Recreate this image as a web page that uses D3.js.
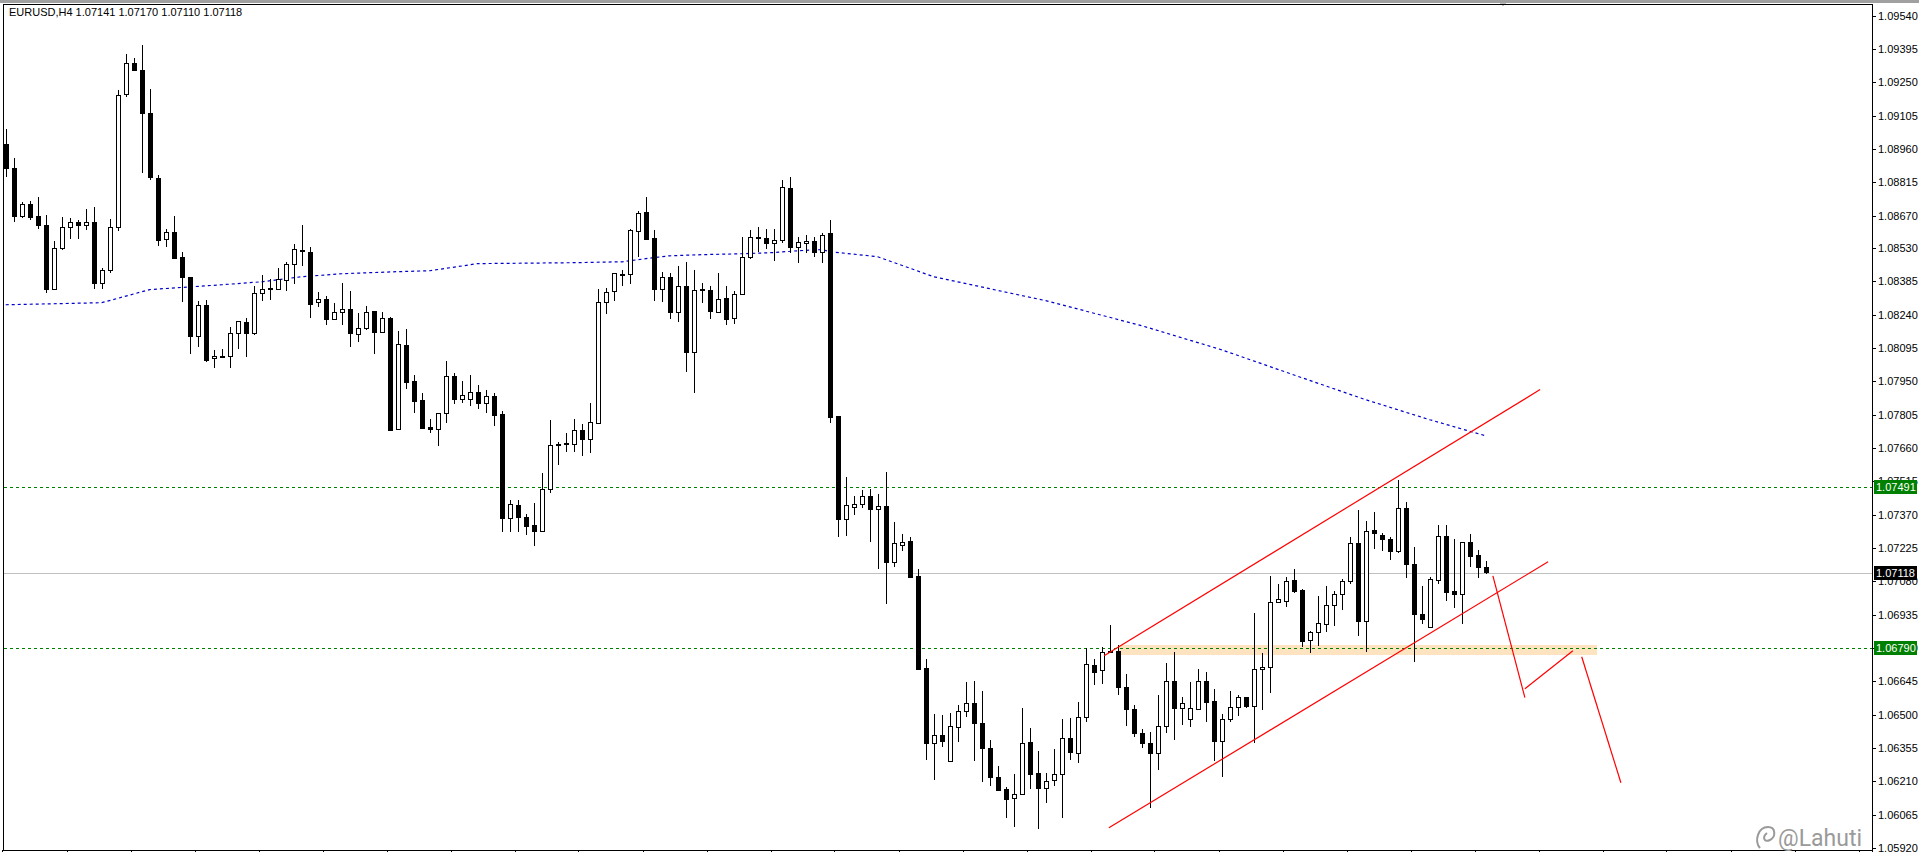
<!DOCTYPE html>
<html>
<head>
<meta charset="utf-8">
<script src="https://cdn.jsdelivr.net/npm/d3@7"></script>
<style>
  html, body { margin: 0; padding: 0; background: #fff; }
  svg { display: block; font-family: "Liberation Sans", Arial, sans-serif; }
</style>
</head>
<body>
<div id="chart"></div>
<script>
// EURUSD H4 candles (oldest first)
const opens = [1.08984,1.08879,1.08670,1.08723,1.08670,1.08631,1.08353,1.08531,1.08623,1.08644,1.08631,1.08644,1.08379,1.08436,1.08623,1.09201,1.09336,1.09306,1.09118,1.08836,
  1.08570,1.08601,1.08492,1.08405,1.08148,1.08283,1.08053,1.08061,1.08061,1.08161,1.08209,1.08161,1.08335,1.08353,1.08353,1.08392,1.08462,1.08523,1.08514,1.08296,
  1.08309,1.08222,1.08253,1.08266,1.08157,1.08183,1.08257,1.08166,1.08227,1.07744,1.08109,1.07953,1.07870,1.07753,1.07744,1.07813,1.07974,1.07874,1.07874,1.07905,
  1.07857,1.07887,1.07809,1.07357,1.07413,1.07361,1.07326,1.07300,1.07483,1.07679,1.07679,1.07679,1.07740,1.07700,1.07770,1.08296,1.08344,1.08418,1.08418,1.08605,
  1.08688,1.08575,1.08353,1.08405,1.08253,1.08366,1.08079,1.08353,1.08348,1.08253,1.08314,1.08227,1.08331,1.08492,1.08575,1.08575,1.08553,1.08566,1.08792,1.08536,
  1.08553,1.08562,1.08514,1.08596,1.07800,1.07352,1.07405,1.07418,1.07452,1.07396,1.07409,1.07165,1.07239,1.07257,1.07104,1.06704,1.06378,1.06413,1.06300,1.06448,
  1.06517,1.06552,1.06465,1.06356,1.06230,1.06178,1.06139,1.06156,1.06382,1.06247,1.06182,1.06217,1.06243,1.06400,1.06334,1.06491,1.06717,1.06696,1.06778,1.06778,
  1.06622,1.06526,1.06421,1.06378,1.06334,1.06452,1.06648,1.06530,1.06482,1.06526,1.06648,1.06561,1.06387,1.06482,1.06535,1.06578,1.06539,1.06700,1.06709,1.06991,
  1.06996,1.07087,1.07043,1.06826,1.06861,1.06896,1.06978,1.07026,1.07083,1.07248,1.06909,1.07305,1.07283,1.07265,1.07213,1.07400,1.07157,1.06939,1.06883,1.07087,
  1.07278,1.07039,1.07026,1.07252,1.07196,1.07141];
const highs = [1.09049,1.08923,1.08731,1.08736,1.08753,1.08675,1.08562,1.08666,1.08662,1.08653,1.08701,1.08710,1.08444,1.08657,1.09219,1.09375,1.09358,1.09414,1.09223,1.08849,
  1.08614,1.08670,1.08514,1.08405,1.08301,1.08305,1.08088,1.08092,1.08188,1.08214,1.08227,1.08366,1.08414,1.08396,1.08444,1.08470,1.08549,1.08631,1.08536,1.08340,
  1.08322,1.08292,1.08379,1.08344,1.08248,1.08279,1.08257,1.08253,1.08231,1.08170,1.08179,1.07979,1.07900,1.07787,1.07813,1.08040,1.07987,1.07953,1.07979,1.07935,
  1.07913,1.07900,1.07822,1.07435,1.07435,1.07374,1.07422,1.07552,1.07783,1.07687,1.07726,1.07787,1.07766,1.07857,1.08353,1.08357,1.08422,1.08436,1.08614,1.08692,
  1.08753,1.08610,1.08427,1.08422,1.08453,1.08470,1.08436,1.08379,1.08366,1.08422,1.08366,1.08344,1.08579,1.08610,1.08623,1.08614,1.08614,1.08827,1.08840,1.08579,
  1.08588,1.08579,1.08596,1.08653,1.07800,1.07535,1.07452,1.07479,1.07482,1.07461,1.07557,1.07339,1.07287,1.07274,1.07135,1.06743,1.06504,1.06500,1.06508,1.06543,
  1.06643,1.06648,1.06604,1.06391,1.06278,1.06187,1.06243,1.06530,1.06443,1.06343,1.06247,1.06352,1.06482,1.06487,1.06556,1.06791,1.06743,1.06796,1.06891,1.06804,
  1.06678,1.06543,1.06439,1.06426,1.06587,1.06726,1.06774,1.06578,1.06643,1.06700,1.06687,1.06613,1.06504,1.06604,1.06587,1.06578,1.06943,1.06769,1.07104,1.07070,
  1.07100,1.07135,1.07048,1.06865,1.07017,1.07061,1.07039,1.07091,1.07274,1.07392,1.07344,1.07383,1.07291,1.07274,1.07522,1.07426,1.07231,1.07061,1.07100,1.07326,
  1.07326,1.07265,1.07252,1.07287,1.07218,1.07170];
const lows = [1.08840,1.08644,1.08662,1.08653,1.08614,1.08335,1.08353,1.08523,1.08570,1.08570,1.08610,1.08353,1.08353,1.08422,1.08605,1.09188,1.09301,1.08857,1.08827,1.08540,
  1.08536,1.08483,1.08296,1.08070,1.08101,1.08035,1.08009,1.08057,1.08009,1.08092,1.08057,1.08153,1.08301,1.08305,1.08353,1.08344,1.08375,1.08453,1.08227,1.08275,
  1.08196,1.08222,1.08196,1.08101,1.08122,1.08175,1.08070,1.08161,1.07735,1.07740,1.07918,1.07813,1.07744,1.07726,1.07670,1.07770,1.07853,1.07857,1.07844,1.07831,
  1.07813,1.07757,1.07296,1.07296,1.07296,1.07283,1.07235,1.07300,1.07465,1.07587,1.07644,1.07644,1.07626,1.07639,1.07770,1.08244,1.08301,1.08366,1.08375,1.08492,
  1.08566,1.08301,1.08296,1.08222,1.08209,1.07992,1.07900,1.08292,1.08222,1.08253,1.08196,1.08201,1.08331,1.08483,1.08514,1.08527,1.08475,1.08553,1.08509,1.08466,
  1.08509,1.08492,1.08466,1.07770,1.07274,1.07278,1.07370,1.07400,1.07252,1.07135,1.06983,1.07144,1.07213,1.07096,1.06696,1.06304,1.06217,1.06361,1.06295,1.06382,
  1.06491,1.06300,1.06208,1.06191,1.06169,1.06052,1.06013,1.06152,1.06178,1.06004,1.06117,1.06191,1.06052,1.06304,1.06291,1.06469,1.06630,1.06635,1.06774,1.06587,
  1.06452,1.06404,1.06356,1.06095,1.06261,1.06421,1.06391,1.06456,1.06448,1.06526,1.06469,1.06300,1.06230,1.06469,1.06495,1.06530,1.06378,1.06521,1.06595,1.06987,
  1.06970,1.07030,1.06796,1.06769,1.06800,1.06861,1.06887,1.06957,1.07070,1.06843,1.06774,1.07222,1.07213,1.07174,1.07204,1.07096,1.06730,1.06896,1.06883,1.07070,
  1.06996,1.06965,1.06896,1.07144,1.07096,1.07110];
const closes = [1.08879,1.08670,1.08723,1.08666,1.08631,1.08353,1.08531,1.08623,1.08644,1.08631,1.08644,1.08379,1.08436,1.08623,1.09197,1.09336,1.09306,1.09118,1.08840,1.08566,
  1.08601,1.08488,1.08405,1.08148,1.08283,1.08044,1.08061,1.08057,1.08161,1.08214,1.08161,1.08335,1.08353,1.08357,1.08396,1.08462,1.08527,1.08518,1.08288,1.08309,
  1.08222,1.08253,1.08266,1.08161,1.08183,1.08253,1.08166,1.08227,1.07740,1.08114,1.07948,1.07866,1.07748,1.07744,1.07813,1.07974,1.07874,1.07892,1.07905,1.07857,
  1.07887,1.07805,1.07357,1.07418,1.07361,1.07322,1.07300,1.07483,1.07674,1.07674,1.07683,1.07740,1.07700,1.07774,1.08296,1.08340,1.08422,1.08414,1.08610,1.08683,
  1.08570,1.08353,1.08405,1.08253,1.08366,1.08079,1.08348,1.08348,1.08257,1.08309,1.08222,1.08331,1.08492,1.08579,1.08579,1.08553,1.08566,1.08797,1.08536,1.08557,
  1.08562,1.08514,1.08588,1.07796,1.07352,1.07413,1.07418,1.07452,1.07396,1.07409,1.07165,1.07248,1.07252,1.07100,1.06700,1.06378,1.06413,1.06387,1.06452,1.06517,
  1.06552,1.06465,1.06356,1.06230,1.06174,1.06134,1.06156,1.06378,1.06243,1.06182,1.06213,1.06243,1.06400,1.06339,1.06491,1.06722,1.06687,1.06774,1.06774,1.06622,
  1.06526,1.06421,1.06378,1.06334,1.06452,1.06648,1.06530,1.06552,1.06530,1.06648,1.06556,1.06387,1.06482,1.06535,1.06578,1.06539,1.06700,1.06709,1.06991,1.07004,
  1.07083,1.07039,1.06822,1.06861,1.06900,1.06978,1.07026,1.07083,1.07248,1.06909,1.07300,1.07291,1.07265,1.07213,1.07400,1.07157,1.06939,1.06917,1.07091,1.07278,
  1.07035,1.07026,1.07252,1.07191,1.07144,1.07118];

// moving average (blue dotted), sampled at bar indices
const maIndex = [0,12,18,27,32,37,42,49,53,59,71,77,81,83,87,92,96,99,102,103,109,116,130,142,152,162,170,178,185];
const maValue = [1.08283,1.08292,1.08349,1.08370,1.08383,1.08405,1.08418,1.08427,1.08431,1.08462,1.08466,1.08470,1.08488,1.08496,1.08501,
  1.08505,1.08510,1.08518,1.08523,1.08514,1.08492,1.08405,1.08301,1.08192,1.08087,1.07966,1.07870,1.07783,1.07713];

const priceTicks = [1.09540,1.09395,1.09250,1.09105,1.08960,1.08815,1.08670,1.08530,1.08385,1.08240,1.08095,1.07950,1.07805,1.07660,
  1.07515,1.07370,1.07225,1.07080,1.06935,1.06790,1.06645,1.06500,1.06355,1.06210,1.06065,1.05920];

// horizontal levels and drawn objects (bar index, price)
const levels = [1.07491, 1.06790];
const bidPrice = 1.07118;
const channelUpper = [[137.3, 1.06756], [191.8, 1.07914]];
const channelLower = [[137.9, 1.06008], [192.8, 1.07165]];
const arrowLegs = [
  [[185.9, 1.07104], [189.9, 1.06574]],
  [[189.9, 1.06613], [195.9, 1.06778]],
  [[197.0, 1.06752], [201.9, 1.06204]]
];
const zone = { from: 139.0, to: 198.9, top: 1.06804, bottom: 1.06761 };

const W = 1919, H = 852;
const plotRight = 1872, plotTop = 4, plotBottom = 850;

const svg = d3.select('#chart').append('svg')
  .attr('width', W).attr('height', H)
  .attr('shape-rendering', 'crispEdges');

const x = d3.scaleLinear().domain([0, 233]).range([5.7, 5.7 + 8 * 233]);
const y = d3.scaleLinear().domain([1.0592, 1.0954]).range([848, 15.8]);

// top gray strip and frame
svg.append('rect').attr('x', 0).attr('y', 0).attr('width', W).attr('height', 3).attr('fill', '#a0a0a0');
svg.append('path').attr('d', `M1500,3 L1506,3 L1503,7 Z`).attr('fill', '#c0c0c0');
svg.append('line').attr('x1', 3.5).attr('x2', 3.5).attr('y1', plotTop).attr('y2', plotBottom).attr('stroke', '#000');
svg.append('line').attr('x1', 3).attr('x2', plotRight).attr('y1', plotTop + 0.5).attr('y2', plotTop + 0.5).attr('stroke', '#000');
svg.append('line').attr('x1', plotRight + 0.5).attr('x2', plotRight + 0.5).attr('y1', plotTop).attr('y2', H).attr('stroke', '#000');
svg.append('line').attr('x1', 3).attr('x2', plotRight).attr('y1', plotBottom + 0.5).attr('y2', plotBottom + 0.5).attr('stroke', '#000');

// bottom time ticks every 8 bars
const timeTicks = d3.range(-0.4, 233, 8);
svg.append('g').selectAll('line').data(timeTicks).join('line')
  .attr('x1', d => Math.round(x(d)) + 0.5).attr('x2', d => Math.round(x(d)) + 0.5)
  .attr('y1', plotBottom).attr('y2', H).attr('stroke', '#000');

// price axis
const axis = svg.append('g');
axis.selectAll('line').data(priceTicks).join('line')
  .attr('x1', plotRight).attr('x2', plotRight + 4)
  .attr('y1', d => Math.round(y(d)) + 0.5).attr('y2', d => Math.round(y(d)) + 0.5)
  .attr('stroke', '#000');
axis.selectAll('text').data(priceTicks).join('text')
  .attr('x', plotRight + 6).attr('y', d => y(d) + 4)
  .attr('font-size', 11).attr('fill', '#000')
  .text(d => d.toFixed(5));

// orange zone
svg.append('rect')
  .attr('x', x(zone.from)).attr('width', x(zone.to) - x(zone.from))
  .attr('y', y(zone.top)).attr('height', y(zone.bottom) - y(zone.top))
  .attr('fill', '#fde3c0');

// levels
svg.append('line').attr('x1', 4).attr('x2', plotRight)
  .attr('y1', Math.round(y(bidPrice)) + 0.5).attr('y2', Math.round(y(bidPrice)) + 0.5)
  .attr('stroke', '#c0c0c0');
svg.append('g').selectAll('line').data(levels).join('line')
  .attr('x1', 4).attr('x2', plotRight)
  .attr('y1', d => Math.round(y(d)) + 0.5).attr('y2', d => Math.round(y(d)) + 0.5)
  .attr('stroke', '#008000').attr('stroke-dasharray', '3,3');

// moving average
const maLine = d3.line().x(d => x(d[0])).y(d => y(d[1]));
svg.append('path')
  .datum(maIndex.map((d, i) => [d, maValue[i]]))
  .attr('d', maLine).attr('fill', 'none')
  .attr('stroke', '#0000cc').attr('stroke-width', 1.2).attr('stroke-dasharray', '3,3')
  .attr('shape-rendering', 'auto');

// candles
const candles = opens.map((o, i) => ({ i, o, h: highs[i], l: lows[i], c: closes[i] }));
const g = svg.append('g');
g.selectAll('.wick').data(candles).join('line')
  .attr('class', 'wick')
  .attr('x1', d => Math.round(x(d.i)) + 0.5).attr('x2', d => Math.round(x(d.i)) + 0.5)
  .attr('y1', d => Math.round(y(d.h))).attr('y2', d => Math.round(y(d.l)))
  .attr('stroke', '#000');
g.selectAll('.body').data(candles).join('rect')
  .attr('class', 'body')
  .attr('x', d => Math.round(x(d.i)) - 1.5)
  .attr('width', 4)
  .attr('y', d => Math.round(y(Math.max(d.o, d.c))) + 0.5)
  .attr('height', d => Math.max(1, Math.round(Math.abs(y(d.o) - y(d.c)))))
  .attr('fill', d => d.c >= d.o ? '#fff' : '#000')
  .attr('stroke', '#000');

// drawn red lines
const red = svg.append('g').attr('stroke', '#ff0000').attr('fill', 'none').attr('shape-rendering', 'auto');
[channelUpper, channelLower, ...arrowLegs].forEach(seg => {
  red.append('line')
    .attr('x1', x(seg[0][0])).attr('y1', y(seg[0][1]))
    .attr('x2', x(seg[1][0])).attr('y2', y(seg[1][1]))
    .attr('stroke-width', 1.2);
});

// axis price labels
function priceLabel(p, bg) {
  const yy = Math.round(y(p));
  svg.append('rect').attr('x', plotRight + 2).attr('y', yy - 7).attr('width', 43).attr('height', 14).attr('fill', bg);
  svg.append('text').attr('x', plotRight + 4).attr('y', yy + 4)
    .attr('font-size', 11).attr('fill', '#fff').text(p.toFixed(5));
}
levels.forEach(p => priceLabel(p, '#008000'));
priceLabel(bidPrice, '#000');

// header
svg.append('text').attr('x', 9).attr('y', 16).attr('font-size', 11).attr('fill', '#000')
  .text('EURUSD,H4  1.07141 1.07170 1.07110 1.07118');

// watermark
const wm = svg.append('g').attr('fill', 'none').attr('stroke', '#9a9a9a').attr('stroke-width', 2)
  .attr('shape-rendering', 'auto');
wm.append('path').attr('d', 'M1760,848 C1754,841 1758,827 1768,827 C1776,827 1776,837 1770,840 C1764,843 1762,837 1767,833');
svg.append('text').attr('x', 1778).attr('y', 846).attr('font-size', 23)
  .attr('font-family', 'Roboto, "Noto Sans", sans-serif')
  .attr('fill', '#9a9a9a').text('@Lahuti');
</script>
</body>
</html>
